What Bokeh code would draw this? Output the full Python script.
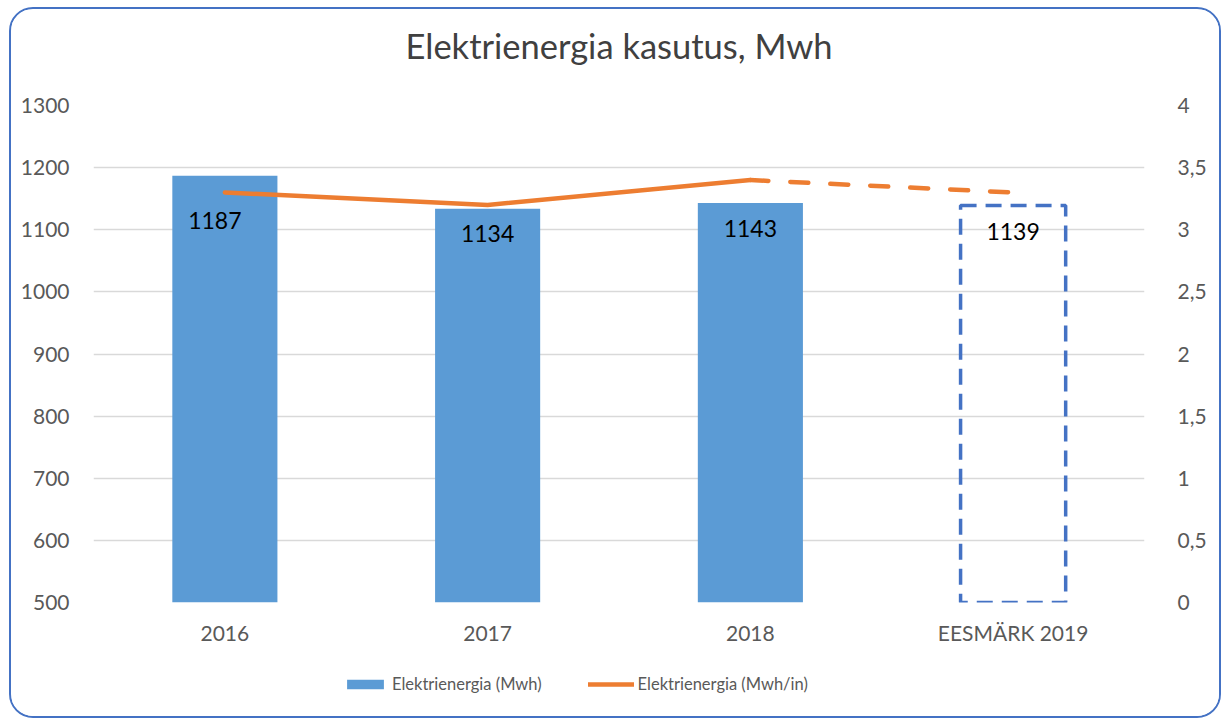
from bokeh.plotting import figure
from bokeh.models import (ColumnDataSource, FactorRange, Range1d, LinearAxis, FixedTicker,
                          LabelSet, Legend, LegendItem, Title)
from bokeh.layouts import column
from bokeh.core.properties import value
from bokeh.embed import file_html
from bokeh.resources import INLINE

# ---- data ----
years = ["2016", "2017", "2018"]
target_year = ["EESMÄRK 2019"]
mwh = [1187, 1134, 1143]
target_mwh = [1139]
mwh_per_res = [3.3, 3.2, 3.4, 3.3]
left_ticks = [500, 600, 700, 800, 900, 1000, 1100, 1200, 1300]
right_ticks = [0, 0.5, 1, 1.5, 2, 2.5, 3, 3.5, 4]
right_labels = ["0", "0,5", "1", "1,5", "2", "2,5", "3", "3,5", "4"]
series_names = ["Elektrienergia (Mwh)", "Elektrienergia (Mwh/in)"]

categories = years + target_year
all_mwh = mwh + target_mwh
label_dx = [-10, 0, 0, 0]
label_dy = [-45, -25, -25, -26]

FONT = "Lato"
BLUE = "#5B9BD5"
ORANGE = "#ED7D31"
DBLUE = "#4472C4"
GRID = "#D9D9D9"
TICKC = "#595959"

p = figure(x_range=FactorRange(*categories, range_padding=0),
           y_range=Range1d(500, 1300),
           frame_width=1051, frame_height=497, output_backend="svg", toolbar_location=None,
           min_border_left=82, min_border_right=75, min_border_top=96, min_border_bottom=50)
p.outline_line_color = None
p.extra_y_ranges = {"right": Range1d(0, 4)}

# spacer (nearest the frame) then title
p.add_layout(Title(text=" ", text_font_size="30px", standoff=0), "above")
title = Title(text="Elektrienergia kasutus, Mwh", align="center", text_font_size="34.5px",
              text_font_style="normal", text_color="#404040", text_font=FONT)
p.add_layout(title, "above")

bars = ColumnDataSource(dict(x=years, top=mwh))
p.vbar(x="x", top="top", bottom=500, width=0.4, source=bars,
       fill_color=BLUE, line_color=None)
tsrc = ColumnDataSource(dict(x=target_year, top=target_mwh))
p.vbar(x="x", top="top", bottom=500, width=0.4, source=tsrc,
       fill_color=None, line_color=DBLUE, line_width=3.5, line_dash="16 9")

p.line(x=years, y=mwh_per_res[:3], y_range_name="right",
       line_color=ORANGE, line_width=4.5, line_cap="round", line_join="round")
p.line(x=categories[2:], y=mwh_per_res[2:], y_range_name="right",
       line_color=ORANGE, line_width=4.5, line_cap="round", line_dash="18 22")

lsrc = ColumnDataSource(dict(x=categories, y=all_mwh, t=[str(v) for v in all_mwh],
                             dx=label_dx, dy=label_dy))
p.add_layout(LabelSet(x="x", y="y", text="t", source=lsrc, x_offset="dx", y_offset="dy",
                      text_align="center", text_baseline="middle", text_font_size="23px",
                      text_color="#000000", text_font=value(FONT)))

# axes
p.yaxis.ticker = FixedTicker(ticks=left_ticks)
for ax in [p.yaxis[0], p.xaxis[0]]:
    ax.axis_line_color = None
    ax.major_tick_line_color = None
    ax.minor_tick_line_color = None
    ax.major_label_text_font_size = "21px"
    ax.major_label_text_color = TICKC
    ax.major_label_text_font = FONT
p.yaxis.major_label_standoff = 18
p.xaxis.major_label_standoff = 11

rax = LinearAxis(y_range_name="right", ticker=FixedTicker(ticks=right_ticks),
                 major_label_overrides={t: l for t, l in zip(right_ticks, right_labels)})
rax.axis_line_color = None
rax.major_tick_line_color = None
rax.minor_tick_line_color = None
rax.major_label_text_font_size = "21px"
rax.major_label_text_color = TICKC
rax.major_label_text_font = FONT
rax.major_label_standoff = 27
p.add_layout(rax, "right")

p.xgrid.grid_line_color = None
p.ygrid.grid_line_color = GRID
p.ygrid.grid_line_width = 1.5

# ---- legend strip (same data, drawn out of view; only the legend shows) ----
lf = figure(x_range=FactorRange(*categories, range_padding=0), y_range=Range1d(5000, 5001),
            frame_width=1208, frame_height=64, output_backend="svg", toolbar_location=None,
            x_axis_type=None, y_axis_type=None, min_border=0)
lf.outline_line_color = None
lf.xgrid.visible = False
lf.ygrid.visible = False
lr_bar = lf.vbar(x=years, top=mwh, bottom=500, width=0.4, fill_color=BLUE, line_color=None)
lr_line = lf.line(x=years, y=mwh_per_res[:3], line_color=ORANGE, line_width=4.5,
                  line_cap="round")
legend = Legend(items=[LegendItem(label=series_names[0], renderers=[lr_bar]),
                       LegendItem(label=series_names[1], renderers=[lr_line])],
                orientation="horizontal", location=(331, 21),
                label_text_font=FONT, label_text_font_size="16.5px", label_text_color=TICKC,
                label_height=22, glyph_width=46, glyph_height=12, label_standoff=4, spacing=46,
                border_line_color=None, background_fill_alpha=0, padding=0, margin=0)
lf.add_layout(legend, "center")

layout = column(p, lf, spacing=0)
layout.styles = {"border": f"2px solid {DBLUE}", "border-radius": "24px",
                 "margin-left": "9px", "margin-top": "7px", "overflow": "hidden"}

open("out.html", "w").write(file_html(layout, INLINE))
